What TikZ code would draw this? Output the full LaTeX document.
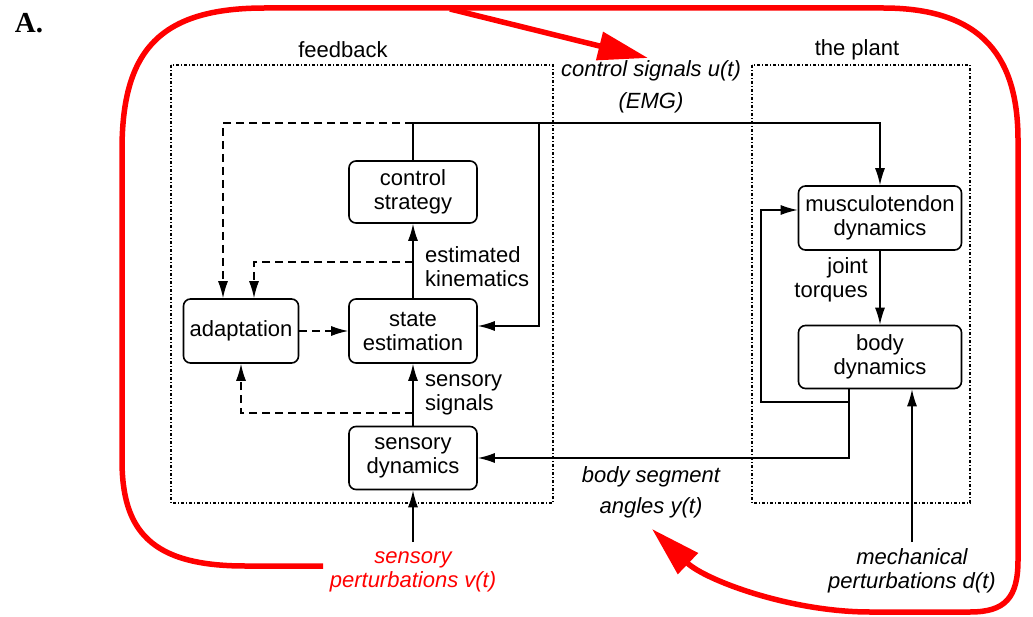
\documentclass[tikz,border=0pt]{standalone}
\usepackage{fontspec}
\setmainfont{Liberation Sans}
\newfontfamily\serifA{Liberation Serif}
\usetikzlibrary{arrows.meta,calc}
\begin{document}
\begin{tikzpicture}[x=1pt,y=-1pt,
  every node/.style={font=\fontsize{22}{24}\selectfont},
  blk/.style={draw,line width=1.6pt,rounded corners=7pt,inner sep=0pt,align=center},
  grp/.style={draw,line width=1.1pt,dash pattern=on 3pt off 2pt on 1pt off 2pt},
  lbl/.style={inner sep=0pt},
  ilbl/.style={inner sep=0pt,font=\fontsize{22}{24}\selectfont\itshape},
  conn/.style={line width=1.4pt},
  arr/.style={conn,-{Latex[length=17pt,width=10pt]}},
  darr/.style={arr,dash pattern=on 8pt off 5pt},
  redarr/.style={draw=red,line width=5.5pt,-{Triangle[length=50pt,width=28pt]}}]
\useasboundingbox (0,0) rectangle (1033,617);

% group boxes
\draw[grp] (171,65) rectangle (553,503);
\draw[grp] (752,65) rectangle (970,503);
\node[lbl] (fbl) at (343,50) {feedback};
\node[lbl] (tpl) at (857,50) {the plant};
\node[font=\fontsize{29}{30}\selectfont\bfseries\serifA,inner sep=0pt] (A) at (29,23) {A.};

% blocks
\node[blk,minimum width=128pt,minimum height=62pt] (cs) at (413,192) {control\\strategy};
\node[blk,minimum width=128pt,minimum height=64pt] (se) at (413,331) {state\\estimation};
\node[blk,minimum width=115pt,minimum height=64pt] (ad) at (241,331) {adaptation};
\node[blk,minimum width=128pt,minimum height=63pt] (sd) at (413,458) {sensory\\dynamics};
\node[blk,minimum width=163pt,minimum height=64pt] (mt) at (880,218) {musculotendon\\dynamics};
\node[blk,minimum width=163pt,minimum height=63pt] (bd) at (880,357) {body\\dynamics};

% labels
\node[lbl,anchor=west,align=left] (ek) at (425,267) {estimated\\kinematics};
\node[lbl,anchor=west,align=left] (ss) at (425,395) {sensory\\signals};
\node[lbl,anchor=east,align=right] (jt) at (868,280) {joint\\torques};
\node[ilbl] (csig) at (651,71) {control signals u(t)};
\node[ilbl] (emg) at (651,103) {(EMG)};
\node[ilbl] (bsa1) at (651,477) {body segment};
\node[ilbl] (bsa2) at (651,508) {angles y(t)};
\node[ilbl,align=center,text=red] (sp) at (413,572) {sensory\\perturbations v(t)};
\node[ilbl,align=center] (mp) at (912,571) {mechanical\\perturbations d(t)};

% coordinates
\coordinate (top) at (413,123);
\coordinate (rv) at (539,123);
\coordinate (ekb) at (413,262);
\coordinate (ssb) at (413,413);
\coordinate (bdo) at (849,402);
\coordinate (fbv) at (761,210);
\coordinate (spo) at (413,542);
\coordinate (mpo) at (912,542);

% connectors
\draw[arr] (cs.north) -- (top) -| (mt.north);
\draw[darr] (top) -| ($(ad.north)+(-18,0)$);
\draw[arr] (rv) |- ($(se.east)+(0,-5)$);
\draw[arr] (se.north) -- (cs.south);
\draw[darr] (ekb) -| ($(ad.north)+(13,0)$);
\draw[darr] (ad.east) -- (se.west);
\draw[arr] (sd.north) -- (se.south);
\draw[darr] (ssb) -| (ad.south);
\draw[arr] ($(bd.south)+(-31,0)$) |- (sd.east);
\draw[arr] (bdo) -| (fbv) -- (fbv -| mt.west);
\draw[arr] (mt.south) -- (bd.north);
\draw[arr] (mpo) -- (mpo |- bd.south);
\draw[arr] (spo) -- (sd.south);

% red loop
\coordinate (rs) at (323,566);
\coordinate (rtip) at (652,529);
\coordinate (rbr) at (450,9);
\coordinate (ctip) at (648,58);
\draw[redarr] (rs) -- (245,566) .. controls (150,566) and (122,530) .. (122,460)
  -- (122,150) .. controls (122,50) and (160,8) .. (265,8) -- (883,8)
  .. controls (985,8) and (1018,60) .. (1018,140) -- (1018,560)
  .. controls (1018,598) and (1005,612) .. (970,612) -- (870,612)
  .. controls (790,612) and (705,580) .. (rtip);
\draw[redarr] (rbr) -- (ctip);
\end{tikzpicture}
\end{document}
